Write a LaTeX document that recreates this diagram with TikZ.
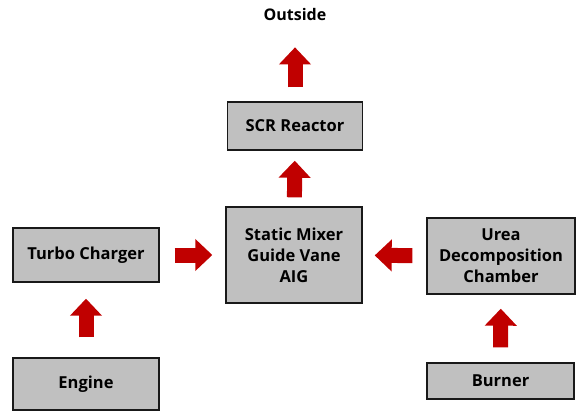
\documentclass[tikz,border=0pt]{standalone}
\usepackage{fontspec}
\setmainfont{Open Sans}
\usetikzlibrary{arrows.meta}
\definecolor{boxgray}{RGB}{192,192,192}
\definecolor{flowred}{RGB}{192,0,0}
\tikzset{
	unit/.style={draw=black!90, line width=1.4pt, fill=boxgray, align=center,
		inner sep=0pt, font=\bfseries\fontsize{16.5}{21}\selectfont},
	flow/.style={draw=flowred, line width=15pt,
		-{Triangle[width=31pt,length=17pt]}, flowred}
}

\begin{document}
\begin{tikzpicture}[x=1pt,y=-1pt]
\useasboundingbox (0,0) rectangle (577,411);
%\draw[help lines] (0,0) grid[step=50] (577,411);
\node[unit, minimum width=146pt, minimum height=54pt] (turbo) at (86,255) {Turbo Charger};
\node[unit, minimum width=146pt, minimum height=52pt] (engine) at (86,384) {Engine};
\node[unit, minimum width=136pt, minimum height=96pt] (mixer) at (294,255) {Static Mixer\\Guide Vane\\AIG};
\node[unit, minimum width=135pt, minimum height=48pt] (scr) at (295,126) {SCR Reactor};
\node[unit, minimum width=148pt, minimum height=76pt] (urea) at (501,256) {Urea\\Decomposition\\Chamber};
\node[unit, minimum width=147pt, minimum height=36pt] (burner) at (500.5,381) {Burner};
\node[font=\bfseries\fontsize{16}{18}\selectfont, inner sep=0pt] (outside) at (295,15) {Outside};

%\path[flow] (turbo) edge (mixer);
\path[flow]
(engine) edge[shorten <=20pt, shorten >=16pt] (turbo)
(turbo) edge[shorten <=15pt, shorten >=13pt] (mixer)
(burner) edge[shorten <=15pt, shorten >=14pt] (urea)
(urea) edge[shorten <=14pt, shorten >=12pt] (mixer)
(mixer) edge[shorten <=9pt, shorten >=10pt] (scr)
(scr) edge[shorten <=14pt, shorten >=26pt] (outside)
;
\end{tikzpicture}
\end{document}
